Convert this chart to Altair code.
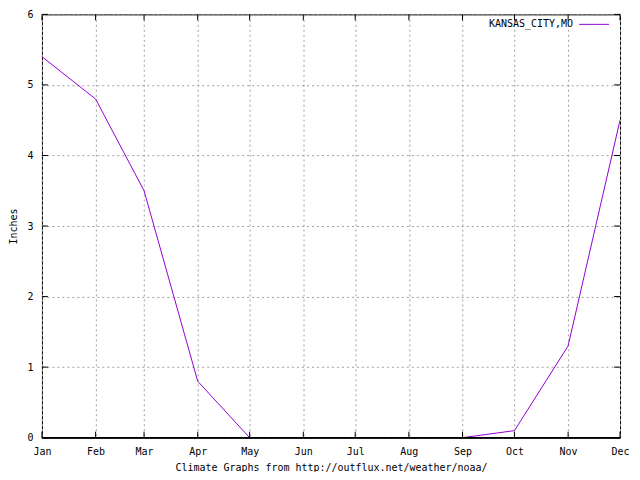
import altair as alt
import pandas as pd

months = ["Jan", "Feb", "Mar", "Apr", "May", "Jun", "Jul", "Aug", "Sep", "Oct", "Nov", "Dec"]
month_starts = ["2001-01-01", "2001-02-01", "2001-03-01", "2001-04-01", "2001-05-01", "2001-06-01",
                "2001-07-01", "2001-08-01", "2001-09-01", "2001-10-01", "2001-11-01", "2001-12-01"]
inches = [5.4, 4.8, 3.5, 0.8, 0.0, 0.0, 0.0, 0.0, 0.0, 0.1, 1.3, 4.5]
y_ticks = [0, 1, 2, 3, 4, 5, 6]
series_name = "KANSAS_CITY,MO"

W, H = 579, 424
FONT = "DejaVu Sans Mono"
LINE_COLOR = "#9400d3"

df = pd.DataFrame({"date": month_starts, "month": months, "inches": inches})
yt = pd.DataFrame({"v": y_ticks})
xt = pd.DataFrame({"date": month_starts})

dom_x = [alt.DateTime(year=2001, month=1, date=1, utc=True),
         alt.DateTime(year=2001, month=12, date=1, utc=True)]
xscale = alt.Scale(type="utc", domain=dom_x)
yscale = alt.Scale(domain=[0, 6])

grid_style = dict(grid=True, gridColor="#a0a0a0", gridDash=[2, 3], gridWidth=1)

x_axis = alt.Axis(
    values=[alt.DateTime(year=2001, month=i + 1, date=1, utc=True) for i in range(12)],
    labelExpr="utcFormat(datum.value, '%b')",
    title="Climate Graphs from http://outflux.net/weather/noaa/",
    ticks=False, domain=False, labelPadding=9, titlePadding=6, labelFontSize=10, titleFontSize=10,
    labelFont=FONT, titleFont=FONT, labelColor="black", titleColor="black", titleFontWeight="normal",
    labelFlush=False, labelOverlap=False, **grid_style,
)
y_axis = alt.Axis(
    values=y_ticks, format="d", title="Inches", ticks=False, domain=False, labelPadding=9,
    titlePadding=8, labelFontSize=10, titleFontSize=10, labelFont=FONT, titleFont=FONT,
    labelColor="black", titleColor="black", titleFontWeight="normal", **grid_style,
)

base = alt.Chart(df)

line = base.mark_line(color=LINE_COLOR, strokeWidth=1, clip=True).encode(
    x=alt.X("date:T", scale=xscale, axis=x_axis),
    y=alt.Y("inches:Q", scale=yscale, axis=y_axis),
)

# inward ticks
tick_len = 6
xtb = alt.Chart(xt).mark_rule(color="black", strokeWidth=1).encode(
    x=alt.X("date:T", scale=xscale), y=alt.value(H), y2=alt.value(H - tick_len))
xtt = alt.Chart(xt).mark_rule(color="black", strokeWidth=1).encode(
    x=alt.X("date:T", scale=xscale), y=alt.value(0), y2=alt.value(tick_len))
ytl = alt.Chart(yt).mark_rule(color="black", strokeWidth=1).encode(
    y=alt.Y("v:Q", scale=yscale), x=alt.value(0), x2=alt.value(tick_len))
ytr = alt.Chart(yt).mark_rule(color="black", strokeWidth=1).encode(
    y=alt.Y("v:Q", scale=yscale), x=alt.value(W), x2=alt.value(W - tick_len))

# border drawn in front
border_bottom = alt.Chart(yt).mark_rule(color="black", strokeWidth=1).encode(
    y=alt.datum(0, scale=yscale), x=alt.value(0), x2=alt.value(W))

# legend
leg_text = alt.Chart(pd.DataFrame({"name": [series_name]})).mark_text(
    align="right", baseline="middle", font=FONT, fontSize=10, color="black").encode(
    text="name:N", x=alt.value(532), y=alt.value(10))
leg_line = alt.Chart(pd.DataFrame({"name": [series_name]})).mark_rule(
    color=LINE_COLOR, strokeWidth=1).encode(
    x=alt.value(538), x2=alt.value(568), y=alt.value(10))

chart = alt.layer(line, xtb, xtt, ytl, ytr, border_bottom, leg_text, leg_line).properties(
    width=W, height=H,
    autosize=alt.AutoSizeParams(type="none"),
    padding={"left": 34, "top": 6, "right": 12, "bottom": 34},
    background="white",
).configure_view(stroke="black", strokeWidth=1)

chart.save("out.html", embed_options={"renderer": "svg", "actions": False})
